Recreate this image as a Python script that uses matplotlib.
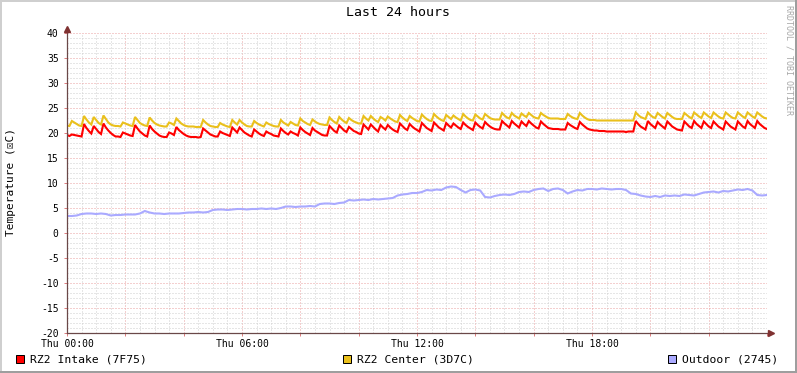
import numpy as np
import matplotlib
matplotlib.use('Agg')
import matplotlib.pyplot as plt
from matplotlib.patches import Rectangle
from matplotlib.lines import Line2D
from matplotlib.ticker import FixedLocator, MultipleLocator

# ---------------- data (5-minute samples for intake/center, 10-minute for outdoor) ----------------
intake = [
    19.6, 19.4, 19.7, 19.6, 19.5, 19.4, 19.3, 21.8, 21.0, 20.4, 19.9, 21.4,
    20.8, 20.2, 19.8, 21.9, 21.1, 20.5, 20.0, 19.6, 19.3, 19.3, 19.2, 20.1,
    19.9, 19.7, 19.5, 19.4, 21.6, 20.9, 20.3, 19.9, 19.5, 19.3, 21.5, 20.8,
    20.3, 19.9, 19.5, 19.3, 19.2, 19.2, 20.1, 19.9, 19.6, 21.2, 20.6, 20.2,
    19.8, 19.5, 19.3, 19.2, 19.2, 19.2, 19.1, 19.2, 20.9, 20.5, 20.1, 19.7,
    19.5, 19.3, 19.3, 20.3, 20.0, 19.8, 19.6, 19.4, 21.1, 20.6, 20.1, 21.1,
    20.6, 20.1, 19.8, 19.5, 19.3, 20.7, 20.3, 19.9, 19.6, 19.4, 20.3, 20.0,
    19.8, 19.5, 19.4, 19.3, 20.9, 20.4, 20.0, 19.7, 20.3, 20.0, 19.8, 19.5,
    21.1, 20.6, 20.2, 19.9, 19.6, 21.0, 20.5, 20.2, 19.9, 19.6, 19.5, 19.5,
    21.4, 20.9, 20.4, 20.1, 21.5, 21.0, 20.5, 20.2, 21.2, 20.8, 20.4, 20.2,
    19.9, 19.8, 21.7, 21.2, 20.7, 21.7, 21.2, 20.7, 20.3, 21.6, 21.1, 20.7,
    21.6, 21.1, 20.7, 20.4, 20.2, 21.9, 21.4, 20.9, 20.6, 21.8, 21.3, 20.9,
    20.6, 20.3, 22.0, 21.5, 21.0, 20.7, 20.4, 22.1, 21.6, 21.1, 20.8, 20.5,
    22.0, 21.5, 21.1, 21.9, 21.5, 21.1, 20.8, 22.1, 21.6, 21.2, 20.9, 20.6,
    22.1, 21.6, 21.2, 20.9, 22.2, 21.7, 21.3, 21.0, 20.8, 20.7, 20.7, 22.4,
    21.9, 21.5, 21.1, 22.4, 21.9, 21.5, 21.1, 22.3, 21.8, 21.4, 22.4, 21.9,
    21.5, 21.1, 20.9, 22.3, 21.8, 21.4, 21.0, 20.9, 20.8, 20.8, 20.8, 20.7,
    20.7, 20.7, 22.0, 21.6, 21.3, 21.0, 20.8, 22.2, 21.7, 21.3, 20.9, 20.7,
    20.6, 20.5, 20.5, 20.4, 20.4, 20.4, 20.3, 20.3, 20.3, 20.3, 20.3, 20.3,
    20.3, 20.3, 20.2, 20.3, 20.3, 20.3, 22.4, 21.8, 21.3, 21.0, 20.7, 22.4,
    21.8, 21.4, 21.0, 22.2, 21.7, 21.3, 20.9, 22.3, 21.8, 21.3, 21.0, 20.7,
    20.6, 20.5, 22.3, 21.8, 21.3, 21.0, 22.4, 21.8, 21.4, 21.0, 22.3, 21.8,
    21.3, 21.0, 22.3, 21.8, 21.3, 21.0, 20.7, 22.3, 21.8, 21.3, 21.0, 20.7,
    22.3, 21.8, 21.3, 21.0, 22.4, 21.8, 21.4, 21.0, 22.4, 21.8, 21.4, 21.0,
    20.8,
]

center = [
    21.5, 21.4, 22.4, 22.1, 21.8, 21.5, 21.4, 23.4, 22.7, 22.1, 21.7, 23.2,
    22.6, 22.0, 21.7, 23.5, 22.8, 22.1, 21.7, 21.5, 21.4, 21.4, 21.3, 22.1,
    21.9, 21.7, 21.5, 21.4, 23.2, 22.6, 22.0, 21.7, 21.5, 21.4, 23.1, 22.5,
    22.0, 21.7, 21.5, 21.4, 21.3, 21.3, 22.1, 21.9, 21.6, 22.9, 22.4, 21.9,
    21.6, 21.4, 21.3, 21.3, 21.3, 21.2, 21.2, 21.2, 22.6, 22.1, 21.7, 21.4,
    21.3, 21.2, 21.2, 22.0, 21.7, 21.5, 21.3, 21.2, 22.6, 22.1, 21.7, 22.6,
    22.1, 21.7, 21.4, 21.3, 21.3, 22.4, 22.0, 21.7, 21.5, 21.3, 22.1, 21.8,
    21.6, 21.4, 21.3, 21.3, 22.6, 22.1, 21.8, 21.5, 22.2, 21.9, 21.6, 21.5,
    22.9, 22.4, 22.1, 21.8, 21.6, 22.7, 22.3, 22.0, 21.8, 21.7, 21.6, 21.6,
    23.1, 22.6, 22.2, 21.9, 23.2, 22.7, 22.3, 22.0, 23.0, 22.6, 22.3, 22.1,
    21.9, 21.9, 23.4, 22.9, 22.5, 23.4, 22.9, 22.5, 22.2, 23.2, 22.9, 22.5,
    23.3, 22.9, 22.6, 22.3, 22.2, 23.6, 23.1, 22.7, 22.4, 23.4, 23.0, 22.7,
    22.4, 22.3, 23.7, 23.2, 22.8, 22.5, 22.4, 23.8, 23.3, 22.9, 22.6, 22.4,
    23.6, 23.2, 22.8, 23.5, 23.1, 22.8, 22.5, 23.8, 23.3, 22.9, 22.6, 22.5,
    23.7, 23.3, 22.9, 22.7, 23.8, 23.4, 23.0, 22.8, 22.7, 22.7, 22.7, 24.0,
    23.5, 23.1, 22.9, 24.0, 23.5, 23.2, 22.9, 23.9, 23.5, 23.2, 24.0, 23.6,
    23.2, 23.0, 22.9, 24.0, 23.6, 23.3, 23.0, 22.9, 22.9, 22.9, 22.9, 22.8,
    22.8, 22.8, 23.8, 23.4, 23.1, 22.9, 22.8, 24.0, 23.5, 23.1, 22.8, 22.6,
    22.6, 22.6, 22.5, 22.5, 22.5, 22.5, 22.5, 22.5, 22.5, 22.5, 22.5, 22.5,
    22.5, 22.5, 22.5, 22.5, 22.5, 22.5, 24.1, 23.6, 23.2, 23.0, 22.8, 24.1,
    23.6, 23.2, 23.0, 24.0, 23.6, 23.2, 22.9, 24.0, 23.6, 23.2, 22.9, 22.8,
    22.8, 22.8, 24.0, 23.6, 23.2, 22.9, 24.1, 23.7, 23.3, 23.0, 24.1, 23.7,
    23.3, 23.0, 24.1, 23.7, 23.3, 23.0, 22.9, 24.1, 23.7, 23.3, 23.0, 22.9,
    24.1, 23.7, 23.3, 23.0, 24.1, 23.7, 23.3, 23.0, 24.1, 23.7, 23.3, 23.0,
    22.9,
]

outdoor = [
    3.4, 3.4, 3.5, 3.8, 3.9, 3.9,
    3.8, 3.9, 3.8, 3.5, 3.6, 3.6,
    3.7, 3.7, 3.7, 3.9, 4.4, 4.1,
    3.9, 3.9, 3.8, 3.9, 3.9, 3.9,
    4.0, 4.1, 4.1, 4.2, 4.1, 4.2,
    4.6, 4.7, 4.7, 4.6, 4.7, 4.8,
    4.8, 4.7, 4.8, 4.8, 4.9, 4.8,
    4.9, 4.8, 5.0, 5.3, 5.3, 5.2,
    5.3, 5.3, 5.4, 5.3, 5.8, 5.9,
    5.9, 5.8, 6.0, 6.1, 6.6, 6.5,
    6.6, 6.7, 6.6, 6.8, 6.7, 6.8,
    6.9, 7.0, 7.5, 7.7, 7.8, 8.0,
    8.0, 8.2, 8.6, 8.5, 8.7, 8.6,
    9.1, 9.3, 9.2, 8.6, 8.1, 8.6,
    8.7, 8.5, 7.2, 7.1, 7.4, 7.6,
    7.7, 7.6, 7.8, 8.2, 8.3, 8.2,
    8.6, 8.8, 8.9, 8.4, 8.8, 8.9,
    8.6, 7.9, 8.3, 8.6, 8.5, 8.8,
    8.8, 8.7, 8.9, 8.8, 8.7, 8.8,
    8.8, 8.6, 7.9, 7.8, 7.5, 7.3,
    7.2, 7.4, 7.2, 7.5, 7.4, 7.5,
    7.4, 7.7, 7.6, 7.5, 7.8, 8.1,
    8.2, 8.3, 8.1, 8.4, 8.3, 8.5,
    8.7, 8.6, 8.8, 8.5, 7.6, 7.5,
    7.6,
]

series_names = ['RZ2 Intake (7F75)', 'RZ2 Center (3D7C)', 'Outdoor (2745)']
series_colors = ['#FF0000', '#EAC01C', '#AAAAFF']
x_tick_hours = [0, 6, 12, 18]
x_tick_labels = ['Thu 00:00', 'Thu 06:00', 'Thu 12:00', 'Thu 18:00']
y_ticks = [-20, -15, -10, -5, 0, 5, 10, 15, 20, 25, 30, 35, 40]

t_fine = np.arange(len(intake)) / 12.0     # hours
t_out = np.arange(len(outdoor)) / 6.0       # hours

# ---------------- figure ----------------
W, H = 797, 373
fig = plt.figure(figsize=(W / 100, H / 100), dpi=100, facecolor='white')

def fx(px):
    return px / W

def fy(py):
    return 1 - py / H

MONO = ['DejaVu Sans Mono', 'DejaVu Sans']

# 3D-ish border
fig.add_artist(Rectangle((0, 0), 1, 2 / H, transform=fig.transFigure, color='#9E9E9E', lw=0))
fig.add_artist(Rectangle((1 - 2 / W, 0), 2 / W, 1, transform=fig.transFigure, color='#9E9E9E', lw=0))
fig.add_artist(Rectangle((0, 1 - 2 / H), 1 - 2 / W, 2 / H, transform=fig.transFigure, color='#CFCFCF', lw=0))
fig.add_artist(Rectangle((0, 2 / H), 2 / W, 1 - 4 / H, transform=fig.transFigure, color='#CFCFCF', lw=0))

ax = fig.add_axes([fx(67), fy(333), fx(767) - fx(67), fy(33) - fy(333)])
ax.set_facecolor('white')
ax.set_xlim(0, 24)
ax.set_ylim(-20, 40)

for s in ax.spines.values():
    s.set_visible(False)

# grid
ax.xaxis.set_major_locator(MultipleLocator(2))
ax.xaxis.set_minor_locator(MultipleLocator(0.5))
ax.yaxis.set_major_locator(FixedLocator(y_ticks))
ax.yaxis.set_minor_locator(MultipleLocator(1))
ax.grid(which='minor', color='#CFCFCF', linestyle=(0, (1, 2)), linewidth=0.72, zorder=0)
ax.grid(which='major', color='#EBA0A0', linestyle=(0, (1, 2)), linewidth=0.72, zorder=0)
ax.set_axisbelow(True)

major_x = list(range(0, 25, 2))
ax.set_xticks(major_x)
ax.set_xticklabels([x_tick_labels[x_tick_hours.index(h)] if h in x_tick_hours else '' for h in major_x])
ax.set_yticks(y_ticks)
ax.set_yticklabels([str(v) for v in y_ticks])
ax.tick_params(which='major', axis='x', length=2, width=0.72, color='#E08080', pad=2.6, labelsize=7)
ax.tick_params(which='major', axis='y', length=2, width=0.72, color='#E08080', pad=4, labelsize=7)
ax.tick_params(which='minor', length=0)
for lab in ax.get_xticklabels() + ax.get_yticklabels():
    lab.set_fontfamily(MONO)
for lab in ax.get_yticklabels():
    lab.set_verticalalignment('center_baseline')

# data lines
ax.plot(t_fine, intake, color=series_colors[0], lw=1.5, zorder=3, solid_joinstyle='miter')
ax.plot(t_fine, center, color=series_colors[1], lw=1.5, zorder=3, solid_joinstyle='miter')
ax.plot(t_out, outdoor, color=series_colors[2], lw=1.5, zorder=3, solid_joinstyle='miter')

# axes with arrows (figure pixel coords)
axis_col = '#6A4848'
arrow_col = '#7F3131'
fig.add_artist(Line2D([fx(67), fx(771)], [fy(333), fy(333)], transform=fig.transFigure,
                      color=axis_col, lw=0.9))
fig.add_artist(Line2D([fx(67), fx(67)], [fy(333), fy(29)], transform=fig.transFigure,
                      color=axis_col, lw=0.9))
fig.add_artist(Line2D([fx(771)], [fy(333)], transform=fig.transFigure, marker='>',
                      markersize=4, color=arrow_col, lw=0))
fig.add_artist(Line2D([fx(67)], [fy(29)], transform=fig.transFigure, marker='^',
                      markersize=4, color=arrow_col, lw=0))

# texts
fig.text(fx(398), fy(13), 'Last 24 hours', ha='center', va='center', fontsize=9.5, family=MONO)
fig.text(fx(11.5), fy(182), 'Temperature (\u2612C)', ha='center', va='center', rotation=90,
         fontsize=8, family=MONO)
fig.text(fx(789), fy(5), 'RRDTOOL / TOBI OETIKER', ha='center', va='top', rotation=270,
         fontsize=6, family=MONO, color='#A8A8A8')

# legend
legend_x = [16, 343, 668]
for name, col, lx in zip(series_names, series_colors, legend_x):
    fig.add_artist(Rectangle((fx(lx), fy(363)), 8 / W, 8 / H, transform=fig.transFigure,
                             facecolor=col, edgecolor='black', lw=0.72))
    fig.text(fx(lx + 14), fy(359), name, ha='left', va='center', fontsize=8.2, family=MONO)

fig.savefig('out.png', dpi=100, facecolor='white')
